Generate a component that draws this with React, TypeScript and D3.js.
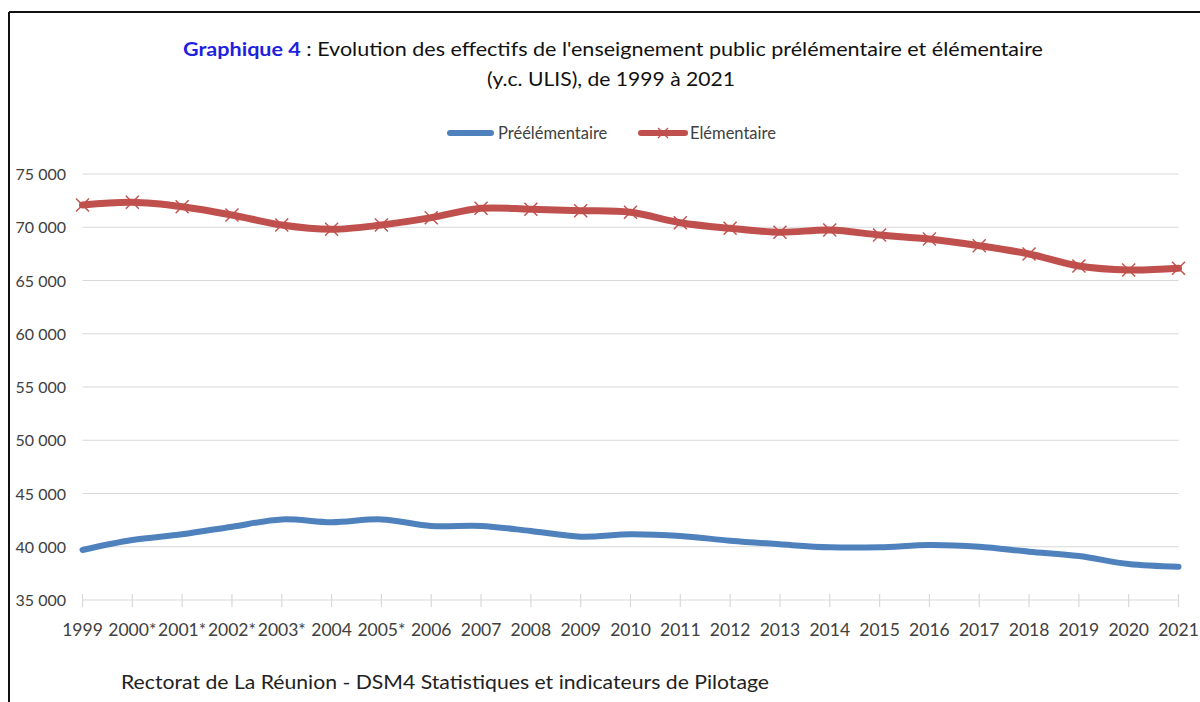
import React from "react";
import * as d3 from "d3";

const years = ["1999","2000*","2001*","2002*","2003*","2004","2005*","2006","2007","2008","2009","2010","2011","2012","2013","2014","2015","2016","2017","2018","2019","2020","2021"];
const preelementaire = [39700,40630,41170,41880,42570,42300,42570,41950,41950,41480,40950,41170,41010,40570,40230,39950,39950,40160,40000,39540,39130,38380,38130];
const elementaire = [72090,72340,71930,71150,70210,69810,70210,70900,71780,71690,71560,71400,70430,69900,69530,69740,69270,68900,68270,67490,66360,65990,66150];
const yTicks = [35000,40000,45000,50000,55000,60000,65000,70000,75000];

const BLUE = "#4F81BD";
const RED = "#C0504D";
const FONT = "Lato, 'Open Sans', sans-serif";

export default function App() {
  const x = d3.scalePoint<string>().domain(years).range([82.5, 1178.5]);
  const y = d3.scaleLinear().domain([35000, 75000]).range([600, 174]);
  const fmt = (v: number) => d3.format(",")(v).replace(/,/g, " ");
  const line = d3
    .line<number>()
    .x((_, i) => x(years[i]) as number)
    .y((d) => y(d))
    .curve(d3.curveCatmullRom.alpha(0.5));

  return (
    <svg width={1200} height={702} style={{ position: "absolute", left: 0, top: 0, background: "#fff" }} fontFamily={FONT}>
      <rect x={0} y={0} width={1200} height={702} fill="#fff" />
      {/* frame */}
      <line x1={9} y1={12} x2={1200} y2={12} stroke="#111" strokeWidth={2} />
      <line x1={9} y1={12} x2={9} y2={702} stroke="#111" strokeWidth={2} />

      {/* title */}
      <text x={613} y={56} textAnchor="middle" fontSize={19} fill="#111" textLength={860} lengthAdjust="spacingAndGlyphs">
        <tspan fill="#1F1FE0" fontWeight="bold">Graphique 4</tspan>
        <tspan> : Evolution des effectifs de l'enseignement public prélémentaire et élémentaire</tspan>
      </text>
      <text x={611} y={86} textAnchor="middle" fontSize={19} fill="#111" textLength={248} lengthAdjust="spacingAndGlyphs">
        (y.c. ULIS), de 1999 à 2021
      </text>

      {/* legend */}
      <line x1={450} y1={133} x2={491} y2={133} stroke={BLUE} strokeWidth={6} strokeLinecap="round" />
      <text x={498} y={139} fontSize={16.5} fill="#404040">Préélémentaire</text>
      <line x1={641} y1={133} x2={685} y2={133} stroke={RED} strokeWidth={6} strokeLinecap="round" />
      <g stroke={RED} strokeWidth={1.3}>
        <line x1={658} y1={128} x2={668} y2={138} />
        <line x1={658} y1={138} x2={668} y2={128} />
      </g>
      <text x={690} y={139} fontSize={16.5} fill="#404040">Elémentaire</text>

      {/* gridlines */}
      {yTicks.map((t) => (
        <line key={t} x1={82.5} x2={1178.5} y1={y(t)} y2={y(t)} stroke="#d9d9d9" strokeWidth={1.2} />
      ))}
      {/* y labels */}
      {yTicks.map((t) => (
        <text key={"l" + t} x={66} y={y(t) + 6} textAnchor="end" fontSize={16} fill="#404040">
          {fmt(t)}
        </text>
      ))}
      {/* x ticks */}
      {years.map((yr) => (
        <line key={"t" + yr} x1={x(yr)} x2={x(yr)} y1={594} y2={607} stroke="#d9d9d9" strokeWidth={1.2} />
      ))}
      {years.map((yr) => (
        <text key={"x" + yr} x={x(yr)} y={636} textAnchor="middle" fontSize={17.5} fill="#404040">
          {yr}
        </text>
      ))}

      {/* lines */}
      <path d={line(preelementaire) || ""} fill="none" stroke={BLUE} strokeWidth={6} strokeLinejoin="round" strokeLinecap="round" />
      <path d={line(elementaire) || ""} fill="none" stroke={RED} strokeWidth={7} strokeLinejoin="round" strokeLinecap="round" />
      <g stroke={RED} strokeWidth={1.4}>
        {elementaire.map((v, i) => {
          const cx = x(years[i]) as number;
          const cy = y(v);
          const s = 6.5;
          return (
            <g key={"m" + i}>
              <line x1={cx - s} y1={cy - s} x2={cx + s} y2={cy + s} />
              <line x1={cx - s} y1={cy + s} x2={cx + s} y2={cy - s} />
            </g>
          );
        })}
      </g>

      {/* footer */}
      <text x={121} y={689} fontSize={20} fill="#222" textLength={648} lengthAdjust="spacingAndGlyphs">
        Rectorat de La Réunion - DSM4 Statistiques et indicateurs de Pilotage
      </text>
    </svg>
  );
}
